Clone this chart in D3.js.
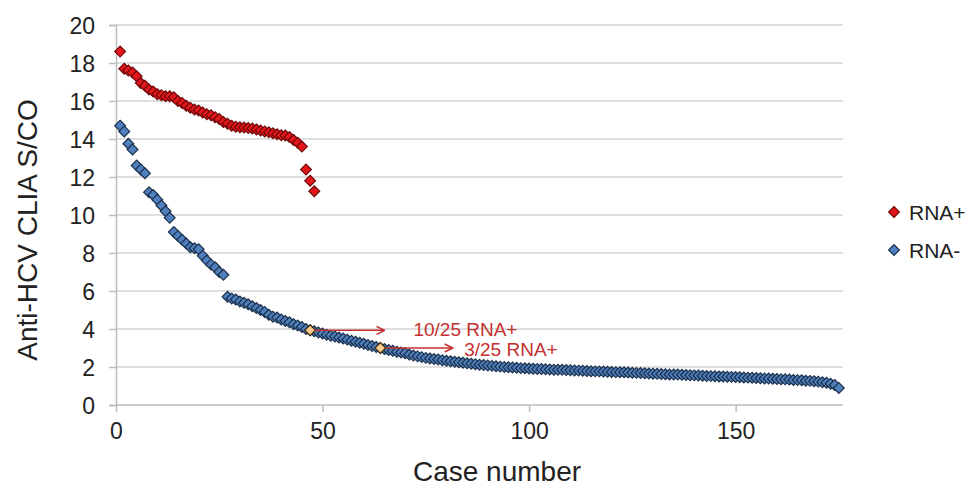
<!DOCTYPE html>
<html>
<head>
<meta charset="utf-8">
<script src="https://cdn.jsdelivr.net/npm/d3@7"></script>
<style>
  body { margin: 0; background: #fff; }
  #chart text { font-family: "Liberation Sans", Arial, sans-serif; }
</style>
</head>
<body>
<div id="chart"></div>
<script>
// values, case number = position in the list (1-based)
const rnaPos = [
  18.6, 17.7, 17.6, 17.5, 17.3, 16.95, 16.8, 16.6, 16.5, 16.35,
  16.3, 16.25, 16.25, 16.2, 16.0, 15.9, 15.75, 15.65, 15.55, 15.5,
  15.4, 15.3, 15.25, 15.15, 15.05, 14.9, 14.8, 14.7, 14.65, 14.62,
  14.6, 14.58, 14.55, 14.5, 14.45, 14.4, 14.35, 14.3, 14.25, 14.2,
  14.18, 14.1, 13.95, 13.8, 13.6, 12.4, 11.8, 11.25
];

const rnaNeg = [
  14.7, 14.4, 13.75, 13.45, 12.6, 12.4, 12.2, 11.2, 11.05, 10.8,
  10.5, 10.2, 9.85, 9.1, 8.9, 8.7, 8.5, 8.3, 8.25, 8.2,
  7.85, 7.6, 7.4, 7.25, 7.0, 6.85, 5.7, 5.6, 5.55, 5.45,
  5.38, 5.3, 5.2, 5.1, 5.0, 4.9, 4.75, 4.65, 4.6, 4.5,
  4.42, 4.35, 4.25, 4.18, 4.1, 4.0, 3.93, 3.88, 3.82, 3.76,
  3.7, 3.65, 3.6, 3.55, 3.5, 3.44, 3.38, 3.33, 3.28, 3.22,
  3.16, 3.1, 3.05, 3.0, 2.95, 2.9, 2.85, 2.8, 2.76, 2.72,
  2.66, 2.6, 2.56, 2.52, 2.48, 2.45, 2.42, 2.39, 2.36, 2.33,
  2.3, 2.28, 2.25, 2.22, 2.2, 2.17, 2.15, 2.12, 2.1, 2.08,
  2.06, 2.04, 2.02, 2.0, 1.99, 1.97, 1.96, 1.94, 1.93, 1.92,
  1.91, 1.9, 1.89, 1.88, 1.87, 1.86, 1.85, 1.85, 1.84, 1.83,
  1.82, 1.81, 1.8, 1.79, 1.78, 1.77, 1.77, 1.76, 1.75, 1.74,
  1.73, 1.72, 1.72, 1.71, 1.7, 1.69, 1.68, 1.67, 1.66, 1.65,
  1.64, 1.63, 1.62, 1.61, 1.6, 1.6, 1.59, 1.58, 1.57, 1.56,
  1.55, 1.54, 1.53, 1.52, 1.51, 1.5, 1.5, 1.49, 1.48, 1.47,
  1.46, 1.45, 1.44, 1.43, 1.42, 1.41, 1.4, 1.39, 1.38, 1.37,
  1.36, 1.35, 1.34, 1.32, 1.31, 1.3, 1.28, 1.27, 1.25, 1.23,
  1.2, 1.17, 1.12, 1.05, 0.9
];

// RNA- cases marked with arrows
const highlightCases = [47, 64];
const annotationText = ["10/25 RNA+", "3/25 RNA+"];
const arrowEndCases = [65, 81.5];
const labelStartCases = [72, 84.3];

const seriesNames = ["RNA+", "RNA-"];
const xTicks = [0, 50, 100, 150];
const yTicks = [0, 2, 4, 6, 8, 10, 12, 14, 16, 18, 20];

const w = 969;
const h = 486;
const padLeft = 116, padRight = 843, padTop = 25, padBottom = 405;

const x = d3.scaleLinear().domain([0, 176]).range([padLeft, padRight]);
const y = d3.scaleLinear().domain([0, 20]).range([padBottom, padTop]);

const svg = d3.select('#chart')
  .append('svg')
  .attr('width', w)
  .attr('height', h);

// grid
svg.append('g')
  .selectAll('line')
  .data(yTicks.filter(d => d > 0))
  .enter()
  .append('line')
  .attr('x1', padLeft)
  .attr('x2', padRight)
  .attr('y1', d => y(d))
  .attr('y2', d => y(d))
  .attr('stroke', '#d4d4d4')
  .attr('stroke-width', 1.5);

const yAxis = d3.axisLeft(y).tickValues(yTicks).tickSize(7).tickPadding(14);
const xAxis = d3.axisBottom(x).tickValues(xTicks).tickSize(7).tickPadding(11);

const gy = svg.append('g')
  .attr('transform', 'translate(' + padLeft + ',0)')
  .call(yAxis);
const gx = svg.append('g')
  .attr('transform', 'translate(0,' + padBottom + ')')
  .call(xAxis);
gx.select('.domain').attr('d', 'M' + padLeft + ',0H' + padRight);

[gx, gy].forEach(g => {
  g.select('.domain').attr('stroke', '#bdbdbd').attr('stroke-width', 1.5);
  g.selectAll('.tick line').attr('stroke', '#bdbdbd').attr('stroke-width', 1.5);
  g.selectAll('.tick text').attr('fill', '#222').style('font-size', '23px');
});
gy.selectAll('.tick text').attr('dy', '0.36em');

svg.append('text')
  .attr('x', 497)
  .attr('y', 481)
  .attr('text-anchor', 'middle')
  .attr('fill', '#222')
  .style('font-size', '28px')
  .text('Case number');

svg.append('text')
  .attr('transform', 'translate(37,230) rotate(-90)')
  .attr('text-anchor', 'middle')
  .attr('fill', '#222')
  .style('font-size', '28px')
  .text('Anti-HCV CLIA S/CO');

const diamond = d3.symbol().type(d3.symbolSquare).size(58);

function drawSeries(values, fill, edge) {
  svg.append('g')
    .selectAll('path')
    .data(values)
    .enter()
    .append('path')
    .attr('d', diamond)
    .attr('transform', (d, i) => 'translate(' + x(i + 1) + ',' + y(d) + ') rotate(45)')
    .attr('fill', fill)
    .attr('stroke', edge)
    .attr('stroke-width', 1.2);
}

drawSeries(rnaPos, '#e3161c', '#6e0808');
drawSeries(rnaNeg, '#4f7fbc', '#1a2f4a');

// highlighted cases
svg.append('g')
  .selectAll('path')
  .data(highlightCases)
  .enter()
  .append('path')
  .attr('d', diamond)
  .attr('transform', d => 'translate(' + x(d) + ',' + y(rnaNeg[d - 1]) + ') rotate(45)')
  .attr('fill', '#f7c98c')
  .attr('stroke', '#3a2a14')
  .attr('stroke-width', 1.2);

// arrows + labels
const red = '#c4302f';
svg.append('defs').append('marker')
  .attr('id', 'arrow')
  .attr('viewBox', '0 0 10 10')
  .attr('refX', 9)
  .attr('refY', 5)
  .attr('markerWidth', 10)
  .attr('markerHeight', 10)
  .attr('markerUnits', 'userSpaceOnUse')
  .attr('orient', 'auto')
  .append('path')
  .attr('d', 'M1,1L9,5L1,9')
  .attr('fill', 'none')
  .attr('stroke', red)
  .attr('stroke-width', 1.5);

const ann = svg.append('g');
highlightCases.forEach((c, i) => {
  const yy = y(rnaNeg[c - 1]);
  ann.append('line')
    .attr('x1', x(c) + 5)
    .attr('x2', x(arrowEndCases[i]))
    .attr('y1', yy)
    .attr('y2', yy)
    .attr('stroke', red)
    .attr('stroke-width', 1.5)
    .attr('marker-end', 'url(#arrow)');
  ann.append('text')
    .attr('x', x(labelStartCases[i]))
    .attr('y', yy + (i === 0 ? -1.5 : 1))
    .attr('dy', '0.36em')
    .attr('fill', red)
    .style('font-size', '19px')
    .text(annotationText[i]);
});

// legend
const legend = svg.append('g');
const legendColors = [['#e3161c', '#6e0808'], ['#4f7fbc', '#1a2f4a']];
seriesNames.forEach((name, i) => {
  const ly = 212 + i * 38;
  legend.append('path')
    .attr('d', diamond)
    .attr('transform', 'translate(894,' + ly + ') rotate(45)')
    .attr('fill', legendColors[i][0])
    .attr('stroke', legendColors[i][1])
    .attr('stroke-width', 1.2);
  legend.append('text')
    .attr('x', 909)
    .attr('y', ly)
    .attr('dy', '0.36em')
    .attr('fill', '#222')
    .style('font-size', '21px')
    .text(name);
});
</script>
</body>
</html>
